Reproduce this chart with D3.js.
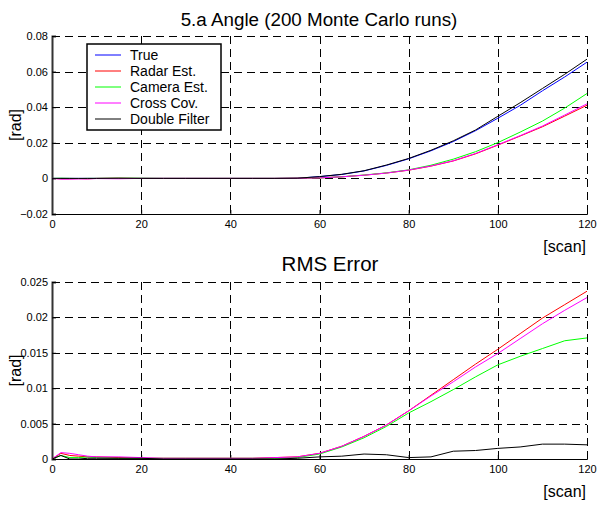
<!DOCTYPE html>
<html>
<head>
<meta charset="utf-8">
<title>5.a Angle</title>
<style>
  body { margin: 0; background: #fff; }
  text { font-family: "Liberation Sans", Arial, sans-serif; fill: #000; }
</style>
<script src="https://d3js.org/d3.v7.min.js"></script>
</head>
<body>
<svg id="chart" width="599" height="506"></svg>
<script>
// scan index shared by all series
var scans = [0,2,4,6,8,10,15,20,25,30,35,40,45,50,55,60,65,70,75,80,85,90,95,100,105,110,115,120];

var names = ["True", "Radar Est.", "Camera Est.", "Cross Cov.", "Double Filter"];
var colors = ["#0000ff", "#ff0000", "#00ff00", "#ff00ff", "#000000"];

// angle [rad]
var angTrue   = [0,0,0,0,0,0,0,0,0,0,0,0,0,0,0.0001,0.0010,0.0022,0.0042,0.0073,0.0110,0.0155,0.0207,0.0268,0.0338,0.0410,0.0492,0.0570,0.0653];
var angRadar  = [0,-0.0002,-0.0002,-0.0001,-0.0002,0,0.0001,0,0,0,0,0,0,0,0.0001,0.0003,0.0009,0.0018,0.0030,0.0046,0.0069,0.0098,0.0138,0.0187,0.0238,0.0290,0.0350,0.0411];
var angCamera = [0,0.0001,0,-0.0001,0,0,0.0001,0.0001,0,0,0,0,0,0,0.0001,0.0003,0.0009,0.0019,0.0031,0.0048,0.0074,0.0108,0.0150,0.0201,0.0260,0.0322,0.0395,0.0477];
var angCross  = [0,-0.0004,-0.0004,-0.0003,-0.0003,-0.0001,-0.0002,0,0,0,0,0,0,0,0.0001,0.0003,0.0009,0.0018,0.0030,0.0047,0.0070,0.0099,0.0140,0.0189,0.0240,0.0294,0.0356,0.0419];
var angDouble = [0,0,0,0,0,0,0.0001,0,0,0,0,0,0,0,0.0001,0.0010,0.0023,0.0043,0.0075,0.0112,0.0158,0.0211,0.0272,0.0349,0.0425,0.0505,0.0585,0.0670];

// RMS error [rad]
var rmsRadar  = [0,0.0008,0.0005,0.0004,0.0003,0.0003,0.0002,0.0001,0.0001,0.0001,0.0001,0.0001,0.0001,0.0002,0.0003,0.0008,0.0018,0.0032,0.0048,0.0068,0.0090,0.0112,0.0134,0.0155,0.0177,0.0199,0.0218,0.0237];
var rmsCamera = [0,0.0005,0.0002,0.0002,0.0003,0.0002,0.0001,0.0001,0.0001,0.0001,0.0001,0.0001,0.0001,0.0001,0.0002,0.0007,0.0017,0.0030,0.0046,0.0065,0.0081,0.0098,0.0116,0.0133,0.0145,0.0156,0.0167,0.0171];
var rmsCross  = [0,0.0009,0.0008,0.0006,0.0004,0.0003,0.0003,0.0002,0.0001,0.0001,0.0001,0.0001,0.0001,0.0002,0.0003,0.0008,0.0018,0.0032,0.0048,0.0068,0.0089,0.0109,0.0130,0.0149,0.0170,0.0191,0.0210,0.0228];
var rmsDouble = [0,0.0005,0,0,0.0001,0.0001,0.0001,0.0001,0,0,0,0,0,0,0.0001,0.0003,0.0004,0.0007,0.0006,0.0002,0.0003,0.0011,0.0012,0.0015,0.0017,0.0021,0.0021,0.0020];

var xTicks = [0,20,40,60,80,100,120];
var angTicks = [-0.02,0,0.02,0.04,0.06,0.08];
var rmsTicks = [0,0.005,0.01,0.015,0.02,0.025];

var svg = d3.select("#chart");
var left = 52, right = 587;

var x = d3.scaleLinear().domain([0,120]).range([left, right]);

function panel(top, bottom, yDomain, yTicks, series, title, titleX, titleY, titleSize) {
  var y = d3.scaleLinear().domain(yDomain).range([bottom, top]);
  var g = svg.append("g");

  // dashed grid
  g.selectAll(".hg").data(yTicks.slice(1)).enter().append("line")
    .attr("x1", left).attr("x2", right)
    .attr("y1", function(d){ return Math.round(y(d)) + 0.5; })
    .attr("y2", function(d){ return Math.round(y(d)) + 0.5; })
    .attr("stroke", "#000").attr("stroke-width", 1).attr("stroke-dasharray", "8,5");
  g.selectAll(".vg").data(xTicks.slice(1)).enter().append("line")
    .attr("y1", top).attr("y2", bottom)
    .attr("x1", function(d){ return Math.round(x(d)) + 0.5; })
    .attr("x2", function(d){ return Math.round(x(d)) + 0.5; })
    .attr("stroke", "#000").attr("stroke-width", 1).attr("stroke-dasharray", "8,5");

  // axes
  var xa = g.append("g").attr("transform", "translate(0," + bottom + ")")
    .call(d3.axisBottom(x).tickValues(xTicks).tickSize(-4).tickPadding(6).tickFormat(d3.format("d")));
  var ya = g.append("g").attr("transform", "translate(" + left + ",0)")
    .call(d3.axisLeft(y).tickValues(yTicks).tickSize(-4).tickPadding(4).tickFormat(function(d){ return d3.format("~g")(+d.toFixed(4)); }));
  [xa, ya].forEach(function(a){
    a.selectAll("text").style("font-family", "'Liberation Sans', Arial, sans-serif").style("font-size", "11px");
    a.select(".domain").attr("stroke", "#000");
  });
  ya.select(".domain").attr("stroke", "#333").attr("stroke-width", 2);

  // data lines
  var line = d3.line().x(function(d, i){ return x(scans[i]); }).y(function(d){ return y(d); });
  series.forEach(function(s){
    g.append("path").datum(s.values)
      .attr("fill", "none").attr("stroke", s.color).attr("stroke-width", 1)
      .attr("d", line);
  });

  svg.append("text").attr("x", titleX).attr("y", titleY).attr("text-anchor", "middle")
    .style("font-size", titleSize + "px").text(title);
  svg.append("text").attr("transform", "translate(21," + (top + bottom) / 2 + ") rotate(-90)")
    .attr("text-anchor", "middle").style("font-size", "16px").text("[rad]");
  svg.append("text").attr("x", 586).attr("y", bottom + 38).attr("text-anchor", "end")
    .style("font-size", "16px").text("[scan]");
  return y;
}

panel(36, 214, [-0.02, 0.08], angTicks, [
  {values: angTrue, color: colors[0]},
  {values: angRadar, color: colors[1]},
  {values: angCamera, color: colors[2]},
  {values: angCross, color: colors[3]},
  {values: angDouble, color: colors[4]}
], "5.a Angle (200 Monte Carlo runs)", 319, 26, 18.8);

panel(282, 459, [0, 0.025], rmsTicks, [
  {values: rmsRadar, color: colors[1]},
  {values: rmsCamera, color: colors[2]},
  {values: rmsCross, color: colors[3]},
  {values: rmsDouble, color: colors[4]}
], "RMS Error", 330, 271, 20.5);

// legend
var lg = svg.append("g");
lg.append("rect").attr("x", 87).attr("y", 44).attr("width", 134).attr("height", 86)
  .attr("fill", "#fff").attr("stroke", "#000").attr("stroke-width", 1.5);
names.forEach(function(n, i){
  var ly = 55 + i * 16;
  lg.append("line").attr("x1", 95).attr("x2", 121).attr("y1", ly).attr("y2", ly)
    .attr("stroke", colors[i]).attr("stroke-width", 1);
  lg.append("text").attr("x", 130).attr("y", ly + 5).style("font-size", "14px").text(n);
});
</script>
</body>
</html>
